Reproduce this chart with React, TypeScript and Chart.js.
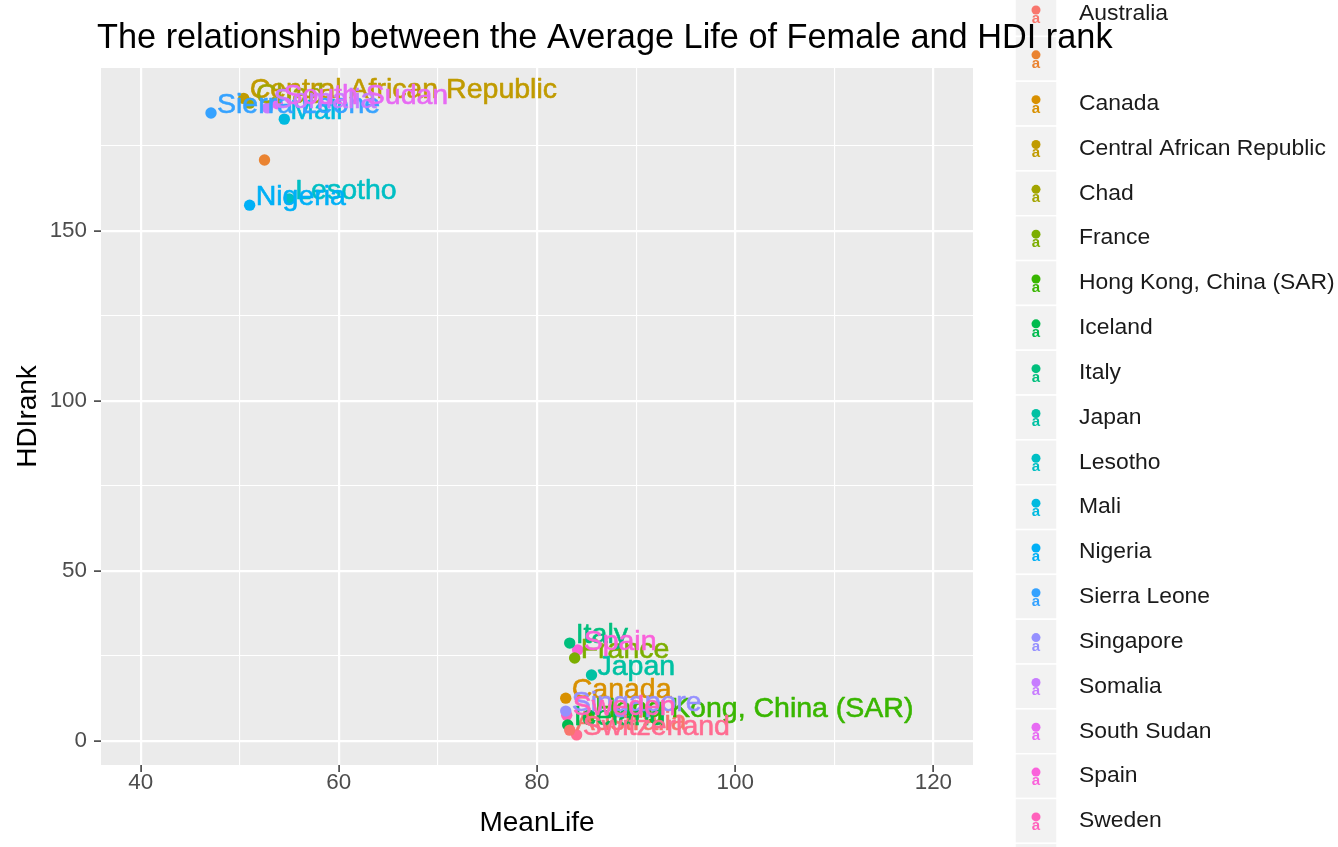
import React, { useEffect, useRef } from 'react';
import { Chart, registerables } from 'chart.js';

Chart.register(...registerables);

// ---------- data ----------
const countries: string[] = [
  'Australia', '', 'Canada', 'Central African Republic', 'Chad', 'France',
  'Hong Kong, China (SAR)', 'Iceland', 'Italy', 'Japan', 'Lesotho', 'Mali',
  'Nigeria', 'Sierra Leone', 'Singapore', 'Somalia', 'South Sudan', 'Spain',
  'Sweden', 'Switzerland',
];
const meanLife: number[] = [
  83.3, 52.5, 82.9, 50.4, 51.0, 83.8,
  85.25, 83.1, 83.3, 85.5, 55.0, 54.5,
  51.0, 47.1, 82.9, 52.8, 53.8, 84.1,
  83.0, 84.0,
];
const hdiRank: number[] = [
  3.2, 170.9, 12.6, 189.0, 187.6, 24.4,
  7.1, 4.7, 28.8, 19.4, 159.4, 182.9,
  157.6, 184.7, 8.8, 186.2, 187.4, 26.8,
  7.6, 1.8,
];
const xTicks: number[] = [40, 50, 60, 70, 80, 90, 100, 110, 120];
const xLabelled: number[] = [40, 60, 80, 100, 120];
const yTicks: number[] = [0, 25, 50, 75, 100, 125, 150, 175];
const yLabelled: number[] = [0, 50, 100, 150];

const titleText = 'The relationship between the Average Life of Female and HDI rank';
const xTitle = 'MeanLife';
const yTitle = 'HDIrank';

// ggplot2 default hue palette (20 levels)
const palette: string[] = [
  '#F8766D', '#EA8331', '#D89000', '#C09B00', '#A3A500', '#7CAE00', '#39B600',
  '#00BB4E', '#00BF7D', '#00C1A3', '#00BFC4', '#00BAE0', '#00B0F6', '#35A2FF',
  '#9590FF', '#C77CFF', '#E76BF3', '#FA62DB', '#FF62BC', '#FF6C91',
];

const FONT = '"Liberation Sans", Arial, Helvetica, sans-serif';
const W = 1338;
const H = 847;

const bgPlugin = {
  id: 'ggBackground',
  beforeDraw(chart: any) {
    const { ctx, chartArea } = chart;
    ctx.save();
    ctx.fillStyle = '#FFFFFF';
    ctx.fillRect(0, 0, chart.width, chart.height);
    ctx.fillStyle = '#EBEBEB';
    ctx.fillRect(chartArea.left, chartArea.top, chartArea.right - chartArea.left, chartArea.bottom - chartArea.top);
    ctx.restore();
  },
};

const labelPlugin = {
  id: 'pointLabels',
  afterDatasetsDraw(chart: any) {
    const { ctx } = chart;
    ctx.save();
    ctx.font = `28.5px ${FONT}`;
    ctx.textAlign = 'left';
    ctx.textBaseline = 'alphabetic';
    ctx.lineWidth = 0.6;
    ctx.lineJoin = 'round';
    chart.data.datasets.forEach((ds: any, i: number) => {
      const meta = chart.getDatasetMeta(i);
      meta.data.forEach((pt: any) => {
        ctx.fillStyle = ds.backgroundColor;
        ctx.strokeStyle = ds.backgroundColor;
        ctx.fillText(ds.label, pt.x + 6, pt.y);
        ctx.strokeText(ds.label, pt.x + 6, pt.y);
      });
    });
    ctx.restore();
  },
};

const legendTitlePlugin = {
  id: 'ggLegendTitle',
  afterDraw(chart: any) {
    const { ctx } = chart;
    ctx.save();
    const rowH = 44.83;
    const firstY = 14;
    const boxX = 1015;
    const boxW = 42;
    chart.data.datasets.forEach((ds: any, i: number) => {
      const cy = firstY + i * rowH;
      ctx.fillStyle = '#F2F2F2';
      ctx.fillRect(boxX, cy - rowH / 2, boxW, rowH);
      ctx.strokeStyle = '#FFFFFF';
      ctx.lineWidth = 1.5;
      ctx.strokeRect(boxX, cy - rowH / 2, boxW, rowH);
      const col = ds.backgroundColor;
      ctx.fillStyle = col;
      ctx.beginPath();
      ctx.arc(boxX + boxW / 2, cy - 4, 4.5, 0, Math.PI * 2);
      ctx.fill();
      ctx.font = `bold 15px ${FONT}`;
      ctx.textAlign = 'center';
      ctx.textBaseline = 'alphabetic';
      ctx.fillText('a', boxX + boxW / 2, cy + 9);
      ctx.fillStyle = '#1A1A1A';
      ctx.font = `22.9px ${FONT}`;
      ctx.textAlign = 'left';
      ctx.textBaseline = 'middle';
      ctx.fillText(ds.label, 1079, cy);
    });
    // plot title (drawn over the legend, as in the reference)
    ctx.fillStyle = '#000000';
    ctx.font = `34.3px ${FONT}`;
    ctx.textAlign = 'left';
    ctx.textBaseline = 'alphabetic';
    ctx.fillText(titleText, 97, 48);
    ctx.restore();
  },
};

export default function App() {
  const ref = useRef<HTMLCanvasElement>(null);

  useEffect(() => {
    document.body.style.margin = '0';
    const datasets = countries.map((name, i) => ({
      label: name,
      data: [{ x: meanLife[i], y: hdiRank[i] }],
      backgroundColor: palette[i],
      borderColor: palette[i],
      borderWidth: 0,
      pointRadius: 5.7,
      pointHoverRadius: 5.7,
    }));

    const chart = new Chart(ref.current as HTMLCanvasElement, {
      type: 'scatter',
      data: { datasets },
      plugins: [bgPlugin, labelPlugin, legendTitlePlugin],
      options: {
        responsive: false,
        animation: false,
        events: [],
        layout: { padding: { top: 68, right: W - 973, left: 0, bottom: 0 } },
        plugins: {
          legend: { display: false },
          title: { display: false },
          tooltip: { enabled: false },
        },
        scales: {
          x: {
            type: 'linear',
            min: 36,
            max: 124,
            afterFit: (s: any) => { s.height = H - 765; },
            afterBuildTicks: (s: any) => { s.ticks = xTicks.map((v) => ({ value: v })); },
            border: { display: false },
            grid: {
              color: '#FFFFFF',
              lineWidth: (c: any) => (xLabelled.includes(c.tick?.value) ? 2.2 : 1.1),
              drawTicks: true,
              tickLength: 7,
              tickColor: (c: any) => (xLabelled.includes(c.tick?.value) ? '#333333' : 'rgba(0,0,0,0)'),
              tickWidth: 1.5,
            },
            ticks: {
              autoSkip: false,
              maxRotation: 0,
              padding: -3,
              color: '#4D4D4D',
              font: { family: FONT, size: 22.4, lineHeight: 1.2 },
              callback: (v: any) => (xLabelled.includes(Number(v)) ? String(v) : ''),
            },
            title: {
              display: true,
              text: xTitle,
              color: '#000000',
              font: { family: FONT, size: 28, lineHeight: 1.2 },
              padding: { top: 0, bottom: 7 },
            },
          },
          y: {
            type: 'linear',
            min: -7.06,
            max: 197.94,
            afterFit: (s: any) => { s.width = 101; },
            afterBuildTicks: (s: any) => { s.ticks = yTicks.map((v) => ({ value: v })); },
            border: { display: false },
            grid: {
              color: '#FFFFFF',
              lineWidth: (c: any) => (yLabelled.includes(c.tick?.value) ? 2.2 : 1.1),
              drawTicks: true,
              tickLength: 7,
              tickColor: (c: any) => (yLabelled.includes(c.tick?.value) ? '#333333' : 'rgba(0,0,0,0)'),
              tickWidth: 1.5,
            },
            ticks: {
              autoSkip: false,
              padding: 7,
              color: '#4D4D4D',
              font: { family: FONT, size: 22.4, lineHeight: 1.2 },
              callback: (v: any) => (yLabelled.includes(Number(v)) ? String(v) : ''),
            },
            title: {
              display: true,
              text: yTitle,
              color: '#000000',
              font: { family: FONT, size: 28, lineHeight: 1.2 },
              padding: { top: 11, bottom: 0 },
            },
          },
        },
      } as any,
    });
    return () => chart.destroy();
  }, []);

  return (
    <div style={{ position: 'fixed', left: 0, top: 0, width: W, height: H, background: '#FFFFFF' }}>
      <canvas ref={ref} width={W} height={H} style={{ display: 'block', width: W, height: H }} />
    </div>
  );
}
